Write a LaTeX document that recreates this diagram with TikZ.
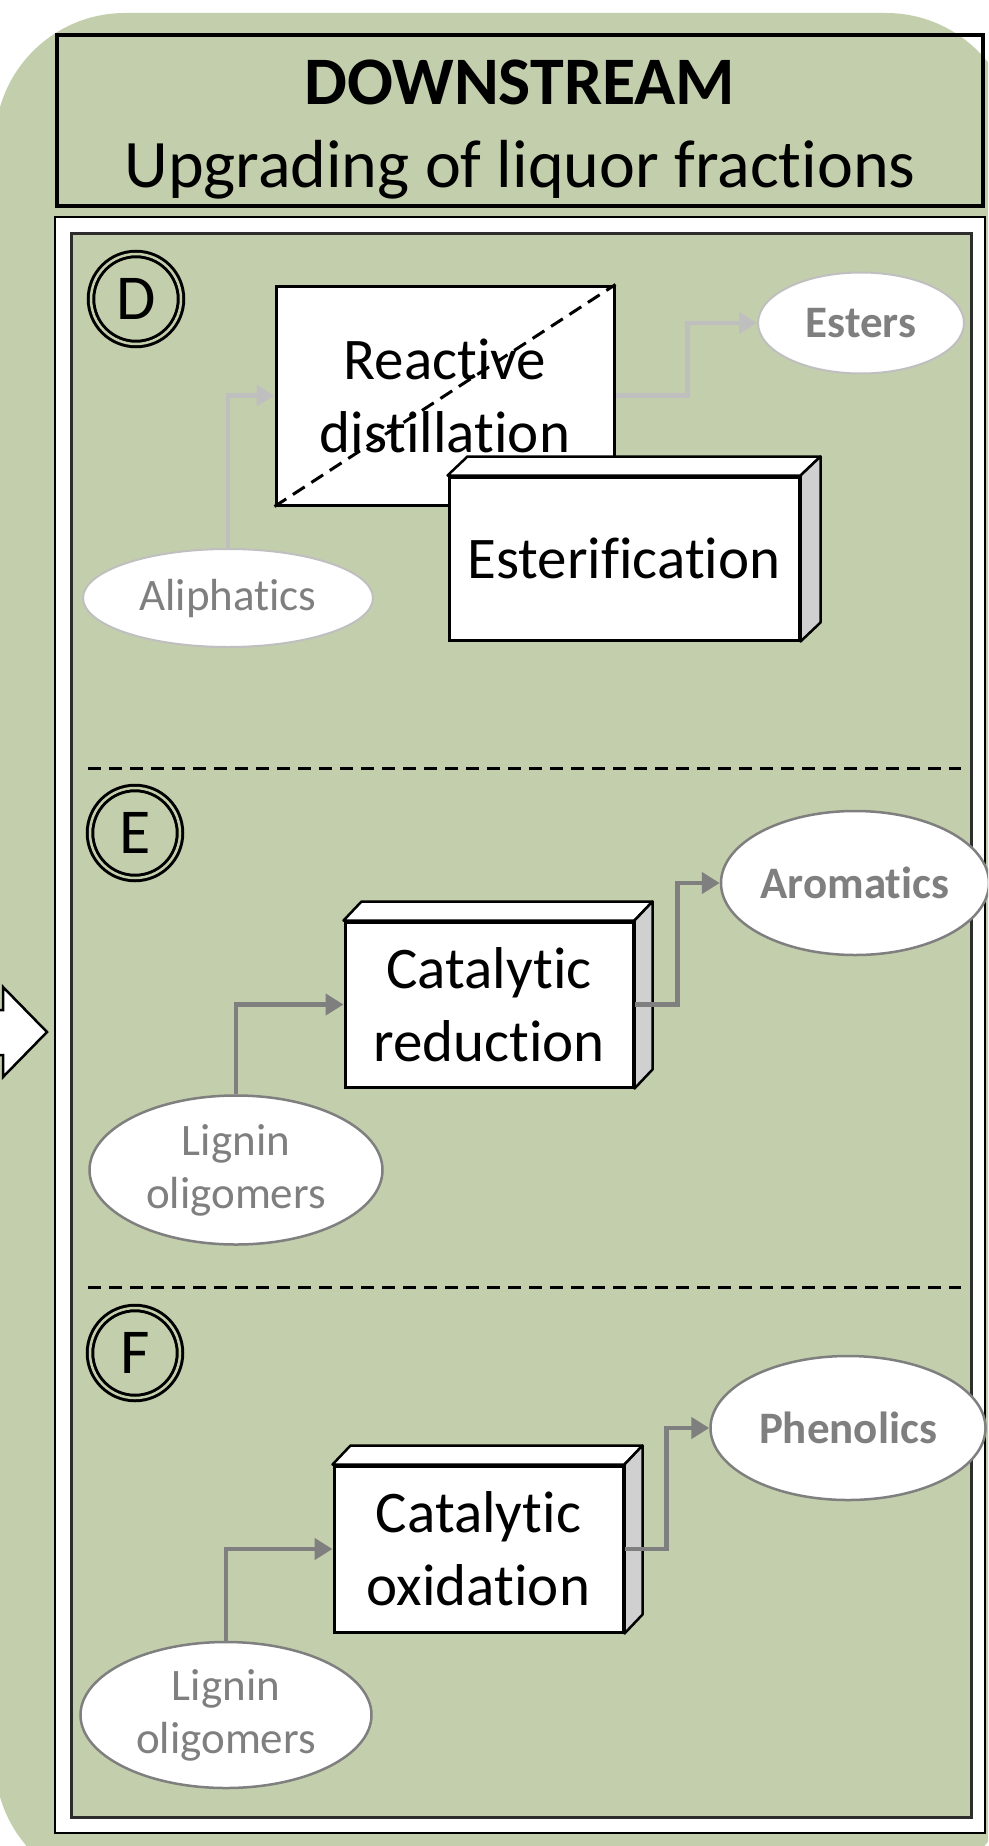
\documentclass[tikz,border=0pt]{standalone}
\usepackage{fontspec}
\setmainfont{Carlito}[Ligatures={NoCommon}]
\usetikzlibrary{arrows.meta,shapes.geometric,calc}
\definecolor{bggreen}{RGB}{195,207,172}
\definecolor{lgray}{RGB}{191,191,191}
\definecolor{dgray}{RGB}{127,127,127}
\definecolor{sidegray}{RGB}{208,208,208}
\definecolor{framegray}{RGB}{45,45,45}
\newcommand{\cubefaces}[3]{%
  \filldraw[fill=white, draw=black, line width=2.5pt, line join=round]
    (#1.north west) -- ++(#2,-#3) -- ($(#1.north east)+(#2,-#3)$) -- (#1.north east) -- cycle;
  \filldraw[fill=sidegray, draw=black, line width=2.5pt, line join=round]
    (#1.north east) -- ++(#2,-#3) -- ($(#1.south east)+(#2,-#3)$) -- (#1.south east) -- cycle;
}
\tikzset{
  frontface/.style={rectangle, draw=black, fill=white, line width=3pt, inner sep=0pt, align=center, font=\fontsize{59}{73}\selectfont},
  prodD/.style={ellipse, draw=lgray, line width=2pt, fill=white, inner sep=0pt, align=center, text=dgray, font=\fontsize{45}{53}\selectfont},
  prodE/.style={ellipse, draw=dgray, line width=2.5pt, fill=white, inner sep=0pt, align=center, text=dgray, font=\fontsize{45}{53}\selectfont},
  lettercirc/.style={circle, draw=black, double=bggreen, double distance=2.5pt, line width=3pt, minimum size=90pt, inner sep=0pt, font=\fontsize{64}{70}\selectfont},
  flowD/.style={draw=lgray, line width=4.5pt, -{Triangle[length=18pt,width=21pt]}},
  flowE/.style={draw=dgray, line width=4.5pt, -{Triangle[length=18pt,width=21pt]}},
  sepline/.style={draw=black, line width=3pt, dash pattern=on 13pt off 8pt},
}
\begin{document}
\begin{tikzpicture}[x=1pt,y=-1pt]
\useasboundingbox (0,0) rectangle (988,1846);
\clip (0,0) rectangle (988,1846);
\fill[white] (0,0) rectangle (988,1846);
% background
\fill[bggreen, rounded corners=130pt] (-5,13) rectangle (1016,1891);
% header
\node[rectangle, draw=black, line width=4pt, minimum width=926pt, minimum height=171pt, inner sep=0pt] (header) at (520,120.5) {};
\node[font=\fontsize{68}{83}\selectfont, align=center] (title) at (520,130) {\textbf{DOWNSTREAM}\\Upgrading of liquor fractions};
% frames
\node[rectangle, draw=black, fill=white, line width=2.5pt, minimum width=930pt, minimum height=1616pt, inner sep=0pt] (outer) at (520,1025) {};
\node[rectangle, draw=framegray, fill=bggreen, line width=3pt, minimum width=900pt, minimum height=1584pt, inner sep=0pt] (inner) at (521,1025) {};
% incoming block arrow
\filldraw[fill=white, draw=black, line width=2.5pt, line join=miter]
  (-10,1010) -- (3,1010) -- (3,987) -- (47,1032) -- (3,1077) -- (3,1055) -- (-10,1055) -- cycle;
% separators
\coordinate (s1a) at (88,768);
\coordinate (s1b) at (961,768);
\coordinate (s2a) at (88,1287);
\coordinate (s2b) at (961,1287);
\draw[sepline] (s1a) -- (s1b);
\draw[sepline] (s2a) -- (s2b);
% letter circles
\node[lettercirc] (cD) at (136,299) {D};
\node[lettercirc] (cE) at (135,833) {E};
\node[lettercirc] (cF) at (135,1353) {F};
% ---- section D
\node[frontface, minimum width=338pt, minimum height=219pt] (reac) at (445,395.5) {Reactive\\distillation};
\draw[black, line width=3pt, dash pattern=on 14pt off 8pt] (reac.south west) -- (reac.north east);
\node[frontface, minimum width=350pt, minimum height=163pt] (ester) at (624,558.5) {Esterification};
\cubefaces{ester}{20}{19}
\node[prodD, minimum width=290pt, minimum height=98pt] (aliph) at (228,598) {Aliphatics};
\node[prodD, minimum width=206pt, minimum height=101pt] (esters) at (861,323) {\textbf{Esters}};
\draw[flowD] (aliph.north) |- (reac.west);
\draw[flowD] (reac.east) -- ++(72,0) |- (esters.west);
% ---- section E
\node[frontface, minimum width=288pt, minimum height=165pt] (catred) at (489,1004.5) {Catalytic\\reduction};
\cubefaces{catred}{18}{19}
\node[prodE, minimum width=268pt, minimum height=144pt] (arom) at (855,883) {\textbf{Aromatics}};
\node[prodE, minimum width=293pt, minimum height=149pt] (ligE) at (236,1170) {Lignin\\oligomers};
\draw[flowE] (ligE.north) |- (catred.west);
\draw[flowE] (catred.east) -- ++(43,0) |- (arom.west);
% ---- section F
\node[frontface, minimum width=289pt, minimum height=166pt] (catox) at (478.5,1549) {Catalytic\\oxidation};
\cubefaces{catox}{18}{19}
\node[prodE, minimum width=275pt, minimum height=144pt] (phen) at (848,1428) {\textbf{Phenolics}};
\node[prodE, minimum width=291pt, minimum height=146pt] (ligF) at (226,1715) {Lignin\\oligomers};
\draw[flowE] (ligF.north) |- (catox.west);
\draw[flowE] (catox.east) -- ++(42,0) |- (phen.west);
\end{tikzpicture}
\end{document}
